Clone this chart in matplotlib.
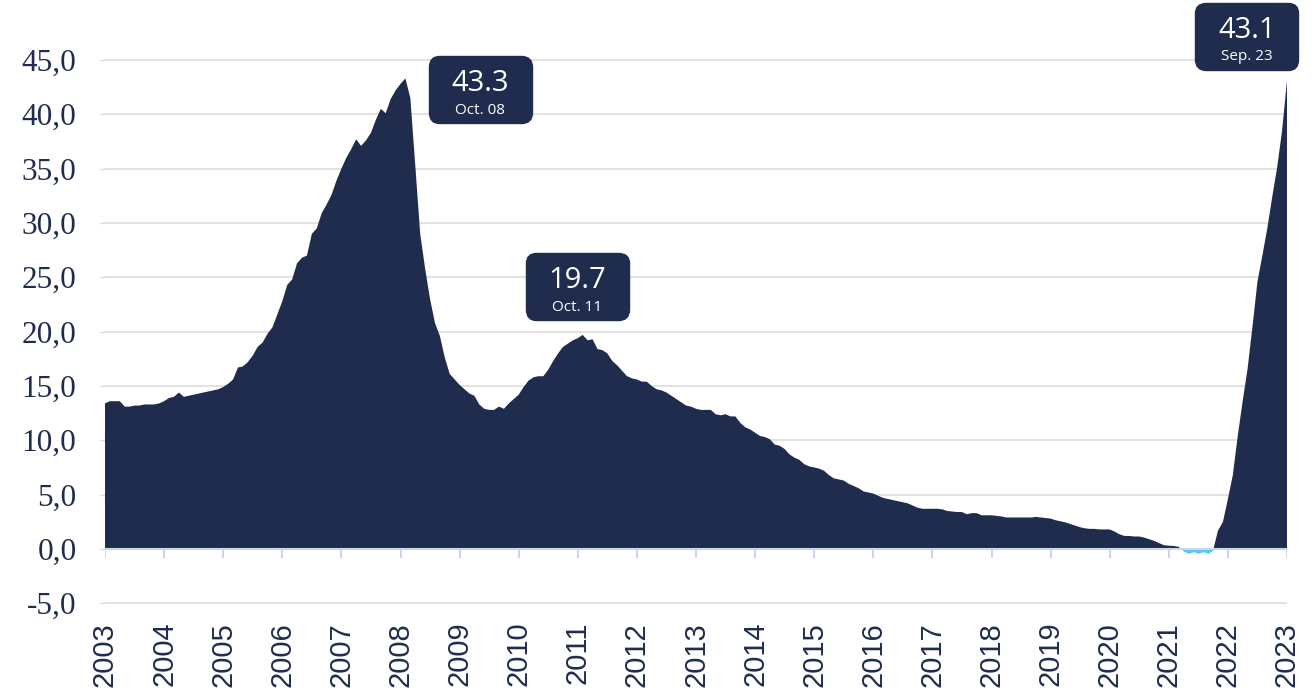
import numpy as np
import matplotlib.pyplot as plt
from matplotlib.offsetbox import DrawingArea, AnnotationBbox
from matplotlib.text import Text

# monthly values, Sep 2003 .. Sep 2023 (one row = 12 months)
values = [
    13.4, 13.6, 13.6, 13.6, 13.1, 13.1, 13.2, 13.2, 13.3, 13.3, 13.3, 13.4,
    13.6, 13.9, 14.0, 14.4, 14.0, 14.1, 14.2, 14.3, 14.4, 14.5, 14.6, 14.7,
    14.9, 15.2, 15.6, 16.7, 16.8, 17.2, 17.8, 18.6, 19.0, 19.8, 20.4, 21.6,
    22.8, 24.3, 24.8, 26.3, 26.8, 27.0, 29.0, 29.5, 30.9, 31.7, 32.6, 33.9,
    35.0, 36.0, 36.8, 37.7, 37.1, 37.6, 38.3, 39.5, 40.5, 40.1, 41.4, 42.2,
    42.8, 43.3, 41.5, 35.3, 29.0, 25.8, 23.0, 20.8, 19.6, 17.6, 16.1, 15.6,
    15.1, 14.7, 14.3, 14.1, 13.3, 12.9, 12.8, 12.8, 13.1, 12.9, 13.4, 13.8,
    14.2, 14.9, 15.5, 15.8, 15.9, 15.9, 16.5, 17.3, 18.0, 18.6, 18.9, 19.2,
    19.4, 19.7, 19.2, 19.3, 18.4, 18.3, 18.0, 17.3, 16.9, 16.4, 15.9, 15.7,
    15.6, 15.4, 15.4, 15.0, 14.7, 14.6, 14.4, 14.1, 13.8, 13.5, 13.2, 13.1,
    12.9, 12.8, 12.8, 12.8, 12.4, 12.3, 12.4, 12.2, 12.2, 11.6, 11.2, 11.0,
    10.7, 10.4, 10.3, 10.1, 9.6, 9.5, 9.2, 8.7, 8.4, 8.2, 7.8, 7.6,
    7.5, 7.4, 7.2, 6.8, 6.5, 6.4, 6.3, 6.0, 5.8, 5.6, 5.3, 5.2,
    5.1, 4.9, 4.7, 4.6, 4.5, 4.4, 4.3, 4.2, 4.0, 3.8, 3.7, 3.7,
    3.7, 3.7, 3.65, 3.5, 3.45, 3.4, 3.4, 3.2, 3.3, 3.3, 3.1, 3.1,
    3.1, 3.05, 3.0, 2.9, 2.9, 2.9, 2.9, 2.9, 2.9, 2.95, 2.9, 2.85,
    2.8, 2.65, 2.55, 2.45, 2.3, 2.15, 2.0, 1.9, 1.85, 1.85, 1.8, 1.8,
    1.8, 1.6, 1.35, 1.2, 1.2, 1.15, 1.15, 1.05, 0.9, 0.75, 0.55, 0.35,
    0.3, 0.28, 0.2, -0.2, -0.4, -0.25, -0.4, -0.25, -0.4, -0.1, 1.7, 2.5,
    4.6, 6.8, 10.4, 13.6, 16.6, 20.5, 24.6, 27.0, 29.5, 32.4, 35.1, 38.5,
    43.1,
]
year_labels = [str(y) for y in range(2003, 2024)]
y_ticks = [-5, 0, 5, 10, 15, 20, 25, 30, 35, 40, 45]

# highlighted points: index, value text, date text, box offset (points)
peak_idx = [61, 97, 240]
peak_text = ["43.3", "19.7", "43.1"]
peak_date = ["Oct. 08", "Oct. 11", "Sep. 23"]
peak_offset = [(54, -8), (-4, 35), (-29, 32)]

navy = '#1f2c4d'
light = '#5cc6ee'
grid_c = '#dadada'
axis_c = '#ccd6eb'

x = np.arange(len(values))
y = np.array(values)

fig = plt.figure(figsize=(13.16, 6.93), dpi=100)
ax = fig.add_axes([105 / 1316, 0.1247, 1182 / 1316, 0.8593])

ax.fill_between(x, y, 0, where=y >= 0, interpolate=True, color=navy, lw=0, zorder=3)
ax.fill_between(x, y, 0, where=y <= 0, interpolate=True, color=light, lw=0, zorder=3)

ax.set_xlim(0, len(values) - 1)
ax.set_ylim(-5.3, 49.5)

# y axis
ax.set_yticks(y_ticks)
ax.set_yticklabels([f"{v:.1f}".replace('.', ',') for v in y_ticks],
                   family='Liberation Serif', fontsize=22.5, color=navy)
ax.tick_params(axis='y', length=3.6, color=grid_c, width=1, pad=17)
ax.yaxis.grid(True, color=grid_c, lw=1.1, zorder=0)

# x axis: labels at the bottom, axis line at zero
year_pos = x[::12]
ax.set_xticks(year_pos)
ax.set_xticklabels(year_labels, rotation=90, family='Liberation Sans',
                   fontsize=21, color=navy)
ax.tick_params(axis='x', length=0, pad=11)
ax.axhline(0, color=axis_c, lw=1.5, zorder=4)
ax.vlines(year_pos, -0.85, 0, color=axis_c, lw=1.5, zorder=4)

for s in ax.spines.values():
    s.set_visible(False)

# label boxes
for i, big, small, (dx, dy) in zip(peak_idx, peak_text, peak_date, peak_offset):
    da = DrawingArea(74, 48, 0, 0)
    da.add_artist(Text(37, 23, big, color='white', fontsize=21,
                       family='Open Sans', ha='center', va='baseline'))
    da.add_artist(Text(37, 6.5, small, color='white', fontsize=11,
                       family='Open Sans', ha='center', va='baseline'))
    ab = AnnotationBbox(da, (i, values[i]), xybox=(dx, dy), xycoords='data',
                        boxcoords='offset points', box_alignment=(0.5, 0.5),
                        frameon=True, pad=0,
                        bboxprops=dict(boxstyle='round,pad=0,rounding_size=0.75',
                                       fc=navy, ec=navy))
    ab.set_zorder(6)
    ax.add_artist(ab)

fig.savefig('out.png', dpi=100)
